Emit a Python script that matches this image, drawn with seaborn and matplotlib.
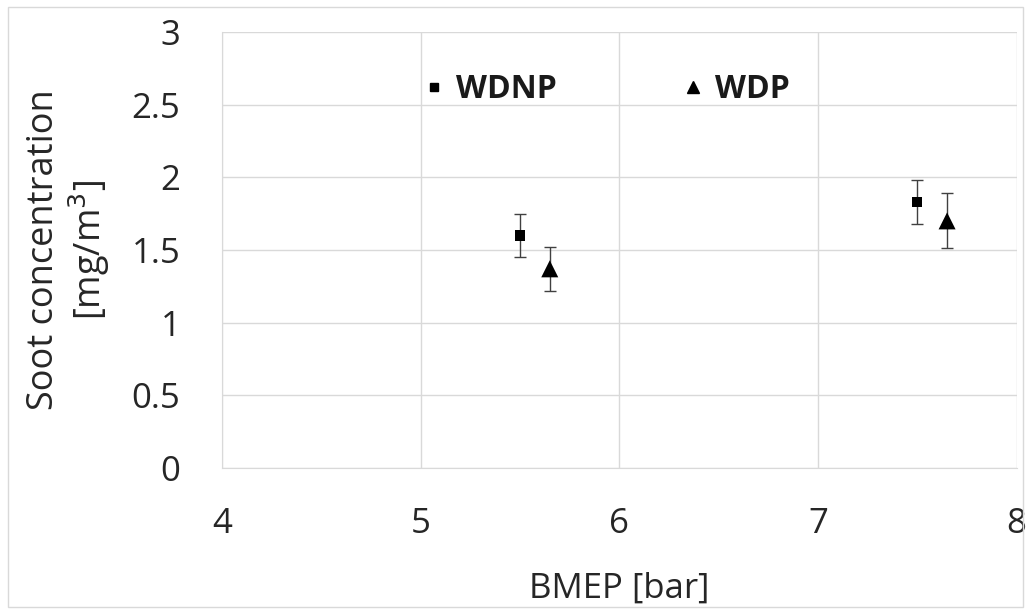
import pandas as pd
import matplotlib.pyplot as plt
import seaborn as sns
from matplotlib.patches import Rectangle

# dados
series = ["WDNP", "WDNP", "WDP", "WDP"]
bmep = [5.5, 7.5, 5.65, 7.65]
soot = [1.60, 1.83, 1.37, 1.70]
erro = [0.15, 0.15, 0.15, 0.19]

df = pd.DataFrame({"serie": series, "BMEP": bmep, "soot": soot, "erro": erro})

sns.set_style("white")
plt.rcParams["font.family"] = ["Open Sans", "DejaVu Sans"]

fig = plt.figure(figsize=(10.3, 6.1), dpi=100)
ax = fig.add_axes([0.2155, 0.233, 0.7715, 0.7145])

ax.errorbar(df["BMEP"], df["soot"], yerr=df["erro"], fmt="none",
            ecolor="#404040", elinewidth=1.0, capsize=4, capthick=1.0, zorder=2)
sns.scatterplot(data=df, x="BMEP", y="soot", style="serie",
                markers={"WDNP": "s", "WDP": "^"}, color="black",
                s=[55, 55, 150, 150], edgecolor="black", linewidth=0,
                ax=ax, zorder=3, legend=False)

ax.set_xlim(4, 8)
ax.set_ylim(0, 3)
ax.set_xticks([4, 5, 6, 7, 8])
ax.set_yticks([0, 0.5, 1, 1.5, 2, 2.5, 3])
ax.set_yticklabels(["0", "0.5", "1", "1.5", "2", "2.5", "3"])
ax.grid(True, color="#d9d9d9", linewidth=1)
for lado in ["top", "right"]:
    ax.spines[lado].set_visible(False)
for lado in ["left", "bottom"]:
    ax.spines[lado].set_color("#d9d9d9")
ax.tick_params(axis="both", labelsize=25, colors="#262626", length=0, pad=28)
ax.tick_params(axis="y", pad=30)
ax.set_xlabel("BMEP [bar]", fontsize=25, color="#262626", labelpad=22)
ax.set_ylabel("Soot concentration\n[mg/m$^3$]", fontsize=26, color="#262626",
              labelpad=14, linespacing=1.15)

# legenda
h1 = plt.Line2D([], [], marker="s", color="black", linestyle="none", markersize=6)
h2 = plt.Line2D([], [], marker="^", color="black", linestyle="none", markersize=9)
leg = ax.legend([h1, h2], ["WDNP", "WDP"], loc="center", ncol=2,
                frameon=False, bbox_to_anchor=(0.481, 0.868), columnspacing=3.75,
                handletextpad=0.2, handlelength=1.0,
                prop={"weight": "bold", "size": 23})
for t in leg.get_texts():
    t.set_color("#1a1a1a")

fig.patches.append(Rectangle((0.008, 0.005), 0.985, 0.984, transform=fig.transFigure,
                             fill=False, edgecolor="#d9d9d9", linewidth=1))

fig.savefig("out.png", dpi=100)
